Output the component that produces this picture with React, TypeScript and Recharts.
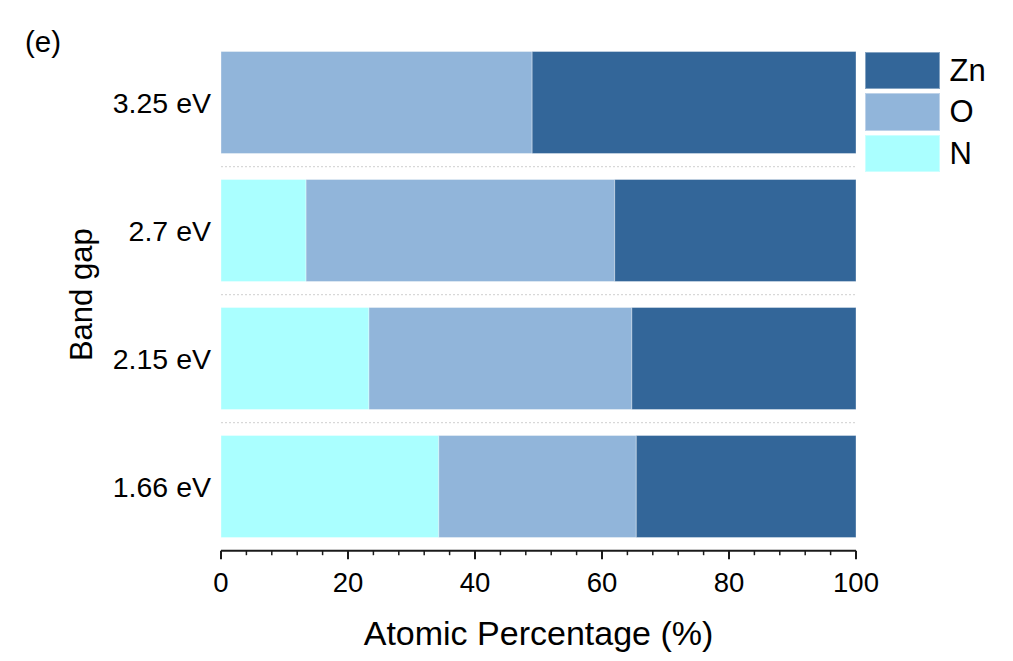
import React from 'react';
import { BarChart, Bar, XAxis, YAxis, ReferenceLine, Legend } from 'recharts';

// ---- data ----
const categories = ['3.25 eV', '2.7 eV', '2.15 eV', '1.66 eV'];
const nValues = [0, 13.4, 23.3, 34.3];
const oValues = [49.0, 48.6, 41.4, 31.1];
const znValues = [51.0, 38.0, 35.3, 34.6];
const xTicks = [0, 4, 8, 12, 16, 20, 24, 28, 32, 36, 40, 44, 48, 52, 56, 60, 64, 68, 72, 76, 80, 84, 88, 92, 96, 100];
const majorTicks = [0, 20, 40, 60, 80, 100];
const separatorCategories = ['2.7 eV', '2.15 eV', '1.66 eV'];
const legendOrder = ['Zn', 'O', 'N'];

const COLORS: Record<string, string> = { Zn: '#336699', O: '#91b5da', N: '#aaffff' };
const FONT = '"Liberation Sans", Arial, sans-serif';

const data = categories.map((c, i) => ({ band: c, N: nValues[i], O: oValues[i], Zn: znValues[i] }));

const XTick = (props: any) => {
  const { x, y, payload } = props;
  const major = majorTicks.includes(payload.value);
  return (
    <g>
      <line x1={x} x2={x} y1={y} y2={y + (major ? 8.5 : 4.5)} stroke="#1a1a1a" strokeWidth={major ? 2 : 1.5} />
      {major && (
        <text x={x} y={y + 41} textAnchor="middle" fontSize={27.5} fontFamily={FONT} fill="#000">
          {payload.value}
        </text>
      )}
    </g>
  );
};

const XLabel = (props: any) => {
  const vb = props.viewBox || {};
  return (
    <text x={vb.x + vb.width / 2} y={vb.y + 94} textAnchor="middle" fontSize={34} fontFamily={FONT} fill="#000">
      Atomic Percentage (%)
    </text>
  );
};

const YLabel = (props: any) => {
  const vb = props.viewBox || {};
  const cx = vb.x + 92;
  const cy = vb.y + vb.height / 2;
  return (
    <text x={cx} y={cy} transform={`rotate(-90, ${cx}, ${cy})`} textAnchor="middle" fontSize={31} fontFamily={FONT} fill="#000">
      Band gap
    </text>
  );
};

const renderLegend = (props: any) => {
  const items = [...(props.payload || [])].sort(
    (a: any, b: any) => legendOrder.indexOf(a.value) - legendOrder.indexOf(b.value)
  );
  return (
    <div style={{ fontFamily: FONT }}>
      {items.map((it: any) => (
        <div key={it.value} style={{ display: 'flex', alignItems: 'center', height: 37.5, marginBottom: 4 }}>
          <div
            style={{
              width: 75,
              height: 37.5,
              background: it.color,
              boxSizing: 'border-box',
              border: '1px solid rgba(255,255,255,0.4)',
            }}
          />
          <span style={{ marginLeft: 10, fontSize: 31, lineHeight: 1, color: '#000' }}>{it.value}</span>
        </div>
      ))}
    </div>
  );
};

export default function App() {
  return (
    <div style={{ position: 'absolute', left: 0, top: 0, width: 1013, height: 661, background: '#fff' }}>
      <div
        style={{
          position: 'absolute',
          left: 25,
          top: 27,
          fontSize: 29.5,
          lineHeight: 1,
          fontFamily: FONT,
          color: '#000',
        }}
      >
        (e)
      </div>
      <BarChart
        width={1013}
        height={661}
        data={data}
        layout="vertical"
        margin={{ top: 38.7, right: 157, bottom: 0, left: 0 }}
        barCategoryGap="10%"
      >
        <XAxis
          type="number"
          domain={[0, 100]}
          ticks={xTicks}
          interval={0}
          tick={<XTick />}
          tickLine={false}
          tickSize={0}
          tickMargin={0}
          axisLine={{ stroke: '#1a1a1a', strokeWidth: 2 }}
          height={110.3}
          label={<XLabel />}
        />
        <YAxis
          yAxisId="cat"
          type="category"
          dataKey="band"
          width={221}
          axisLine={false}
          tickLine={false}
          tickSize={0}
          tickMargin={10}
          tick={{ fontSize: 28.5, fill: '#000', fontFamily: FONT }}
          label={<YLabel />}
        />
        {separatorCategories.map((s) => (
          <ReferenceLine
            key={s}
            yAxisId="cat"
            y={s}
            position="start"
            stroke="#cfcfcf"
            strokeWidth={1}
            strokeDasharray="2 2"
          />
        ))}
        <Legend
          layout="horizontal"
          verticalAlign="middle"
          align="center"
          content={renderLegend}
          wrapperStyle={{ top: 51.5, left: 864.5, width: 150, height: 'auto' }}
        />
        <Bar yAxisId="cat" dataKey="N" name="N" stackId="a" fill={COLORS.N} stroke="rgba(255,255,255,0.35)" strokeWidth={1} isAnimationActive={false} />
        <Bar yAxisId="cat" dataKey="O" name="O" stackId="a" fill={COLORS.O} stroke="rgba(255,255,255,0.35)" strokeWidth={1} isAnimationActive={false} />
        <Bar yAxisId="cat" dataKey="Zn" name="Zn" stackId="a" fill={COLORS.Zn} stroke="rgba(255,255,255,0.35)" strokeWidth={1} isAnimationActive={false} />
      </BarChart>
    </div>
  );
}
